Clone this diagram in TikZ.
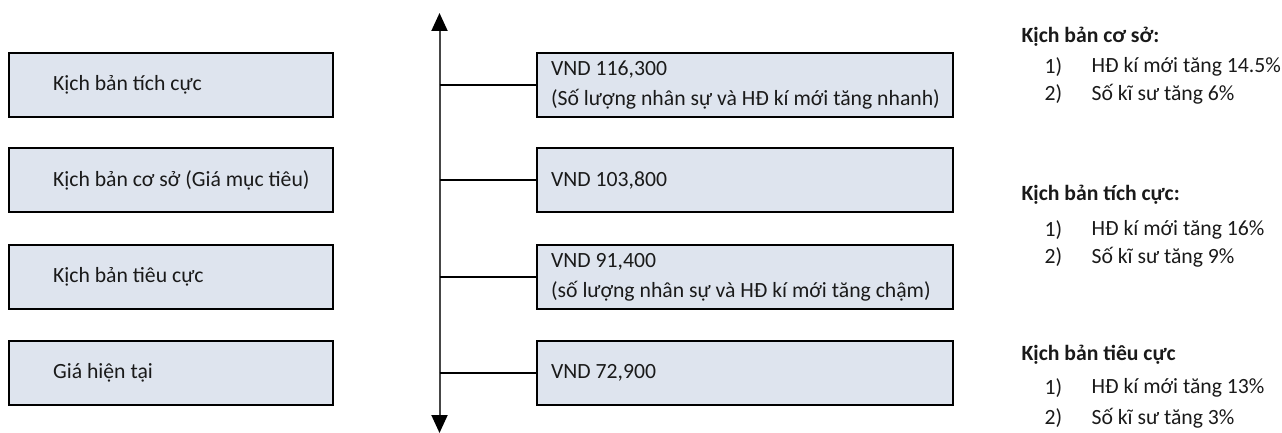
\documentclass[tikz,border=0pt]{standalone}
\usepackage{fontspec}
\setmainfont{Carlito}
\usetikzlibrary{arrows.meta}
\definecolor{boxfill}{RGB}{222,228,238}
\definecolor{txt}{RGB}{26,26,26}
\definecolor{axisc}{RGB}{70,70,70}
\begin{document}
\begin{tikzpicture}[x=1pt,y=-1pt,
  every node/.style={text=txt, font=\fontsize{21.7}{30}\selectfont},
  scen/.style={draw=black, line width=2.2pt, fill=boxfill, minimum width=324pt, minimum height=64pt,
    anchor=north west, inner sep=0pt, text width=324pt, align=flush left},
  price/.style={draw=black, line width=2.2pt, fill=boxfill, minimum width=416pt, minimum height=64pt,
    anchor=north west, inner sep=0pt, text width=416pt, align=flush left},
  tie/.style={draw=black, line width=2.2pt},
  axisline/.style={draw=axisc, line width=2pt, {Triangle[width=16pt,length=18pt,color=black]}-{Triangle[width=16pt,length=18pt,color=black]}},
  head/.style={anchor=west, font=\fontsize{21.7}{26}\selectfont\bfseries},
  item/.style={anchor=west, font=\fontsize{21.7}{26}\selectfont}
]
\useasboundingbox (0,0) rectangle (1282,433);

% left scenario boxes
\node[scen] (l1) at (8,52) {\hspace*{44pt}Kịch bản tích cực};
\node[scen] (l2) at (8,147) {\hspace*{44pt}Kịch bản cơ sở (Giá mục tiêu)};
\node[scen] (l3) at (8,244) {\hspace*{44pt}Kịch bản tiêu cực};
\node[scen] (l4) at (8,340) {\hspace*{44pt}Giá hiện tại};

% right price boxes
\node[price] (r1) at (536,52) {\hspace*{14pt}VND 116,300\\\hspace*{14pt}(Số lượng nhân sự và HĐ kí mới tăng nhanh)};
\node[price] (r2) at (536,147) {\hspace*{14pt}VND 103,800};
\node[price] (r3) at (536,244) {\hspace*{14pt}VND 91,400\\\hspace*{14pt}(số lượng nhân sự và HĐ kí mới tăng chậm)};
\node[price] (r4) at (536,340) {\hspace*{14pt}VND 72,900};

% axis
\coordinate (atop) at (439.5,13);
\coordinate (abot) at (439.5,433);
\draw[axisline] (atop) -- (abot);
\foreach \i in {1,2,3,4}{
  \coordinate (a\i) at (atop |- r\i.west);
  \draw[tie] (a\i) -- (r\i.west);
}

% notes
\node[head] (h1) at (1018,37) {Kịch bản cơ sở:};
\node[item] (h1n1) at (1041,67) {1)};
\node[item] (h1t1) at (1088,67) {HĐ kí mới tăng 14.5\%};
\node[item] (h1n2) at (1041,94) {2)};
\node[item] (h1t2) at (1088,94) {Số kĩ sư tăng 6\%};

\node[head] (h2) at (1018,195) {Kịch bản tích cực:};
\node[item] (h2n1) at (1041,230) {1)};
\node[item] (h2t1) at (1088,230) {HĐ kí mới tăng 16\%};
\node[item] (h2n2) at (1041,257) {2)};
\node[item] (h2t2) at (1088,257) {Số kĩ sư tăng 9\%};

\node[head] (h3) at (1018,355) {Kịch bản tiêu cực};
\node[item] (h3n1) at (1041,388) {1)};
\node[item] (h3t1) at (1088,388) {HĐ kí mới tăng 13\%};
\node[item] (h3n2) at (1041,418) {2)};
\node[item] (h3t2) at (1088,418) {Số kĩ sư tăng 3\%};
\end{tikzpicture}
\end{document}
